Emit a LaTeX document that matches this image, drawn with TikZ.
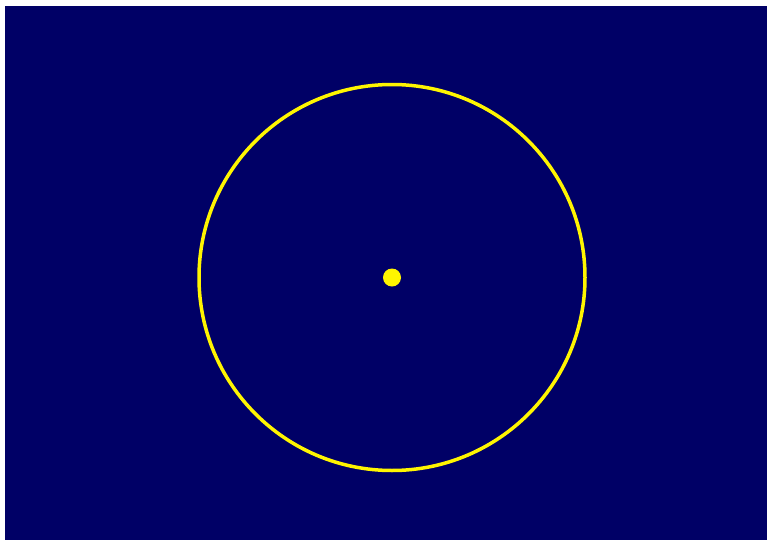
\documentclass[tikz,border=0pt]{standalone}
\usepackage{tikz}
\usetikzlibrary{positioning}
\definecolor{navybg}{RGB}{0,0,102}
\definecolor{ringyellow}{RGB}{255,245,0}
\tikzset{
  ring/.style={circle,draw=ringyellow,line width=3.5pt,minimum size=386pt,inner sep=0pt},
  centredot/.style={circle,fill=ringyellow,minimum size=18pt,inner sep=0pt}
}
\begin{document}
\begin{tikzpicture}[x=1pt,y=-1pt]
\useasboundingbox (0,0) rectangle (772,544);
\fill[white] (0,0) rectangle (772,544);
\fill[navybg] (5,6) rectangle (767,540);
\node[ring] (orbit) at (392,277.5) {};
\node[centredot] (dot) at (orbit.center) {};
\end{tikzpicture}
\end{document}
